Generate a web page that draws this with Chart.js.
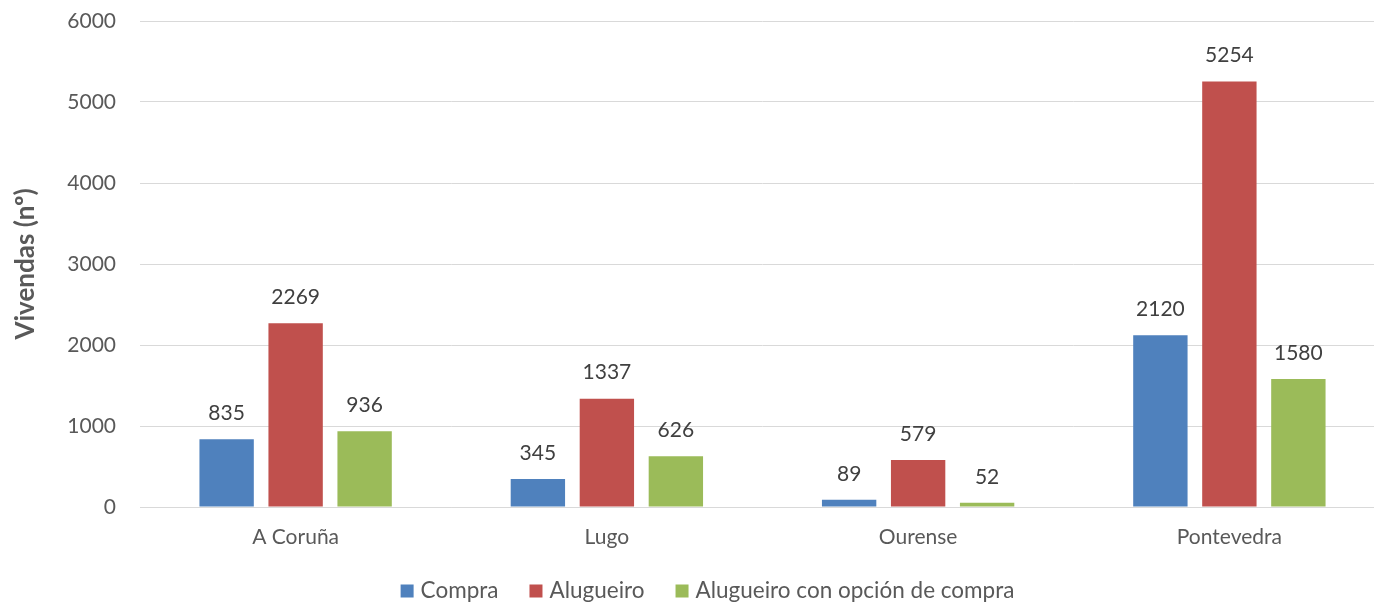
<!DOCTYPE html>
<html>
<head>
<meta charset="utf-8">
<script src="https://cdn.jsdelivr.net/npm/chart.js@4.4.1/dist/chart.umd.min.js"></script>
<style>
  html, body { margin: 0; padding: 0; background: #fff; overflow: hidden; }
  #wrap { width: 1390px; height: 605px; }
</style>
</head>
<body>
<div id="wrap"><canvas id="c" width="1390" height="605"></canvas></div>
<script>
const categories = ["A Coruña", "Lugo", "Ourense", "Pontevedra"];
const seriesNames = ["Compra", "Alugueiro", "Alugueiro con opción de compra"];
const compra = [835, 345, 89, 2120];
const alugueiro = [2269, 1337, 579, 5254];
const alugueiroOpcion = [936, 626, 52, 1580];
const yTicks = [0, 1000, 2000, 3000, 4000, 5000, 6000];
const yTitle = "Vivendas (nº)";

const colors = ["#4F81BD", "#C0504D", "#9BBB59"];
const FONT = "Lato, 'Open Sans', sans-serif";
const TXT = "#595959";

const valueLabels = {
  id: 'valueLabels',
  afterDatasetsDraw(chart) {
    const ctx = chart.ctx;
    ctx.save();
    ctx.font = "21px " + FONT;
    ctx.fillStyle = "#404040";
    ctx.textAlign = "center";
    ctx.textBaseline = "middle";
    chart.data.datasets.forEach((ds, i) => {
      const meta = chart.getDatasetMeta(i);
      meta.data.forEach((el, j) => {
        ctx.fillText(String(ds.data[j]), el.x, el.y - 26);
      });
    });
    ctx.restore();
  }
};

const bottomLegend = {
  id: 'bottomLegend',
  afterDraw(chart) {
    const ctx = chart.ctx;
    ctx.save();
    ctx.font = "22.5px " + FONT;
    ctx.textBaseline = "middle";
    ctx.textAlign = "left";
    const box = 13, gapText = 7, gapItem = 31;
    const items = chart.data.datasets.map(ds => ({label: ds.label, color: ds.backgroundColor, w: ctx.measureText(ds.label).width}));
    let total = 0;
    items.forEach((it, i) => { total += box + gapText + it.w + (i < items.length - 1 ? gapItem : 0); });
    let x = 707.5 - total / 2;
    const y = 591;
    items.forEach(it => {
      ctx.fillStyle = it.color;
      ctx.fillRect(x, y - box / 2, box, box);
      x += box + gapText;
      ctx.fillStyle = TXT;
      ctx.fillText(it.label, x, y);
      x += it.w + gapItem;
    });
    ctx.restore();
  }
};

const datasets = [compra, alugueiro, alugueiroOpcion].map((d, i) => ({
  label: seriesNames[i],
  data: d,
  backgroundColor: colors[i],
  borderWidth: 0,
  categoryPercentage: 0.665,
  barPercentage: 0.788
}));

new Chart(document.getElementById('c'), {
  type: 'bar',
  data: { labels: categories, datasets },
  options: {
    responsive: false,
    animation: false,
    layout: { padding: { top: 21, right: 5, left: 0, bottom: 0 } },
    plugins: { legend: { display: false }, tooltip: { enabled: false } },
    scales: {
      x: {
        grid: { display: false, drawTicks: false },
        border: { color: "#D9D9D9", width: 1 },
        ticks: { color: TXT, font: { family: FONT, size: 21 }, padding: 18 },
        afterFit(s) { s.height = 98; }
      },
      y: {
        min: 0, max: 6000,
        afterBuildTicks(s) { s.ticks = yTicks.map(v => ({ value: v })); },
        grid: { color: "#D9D9D9", drawTicks: false },
        border: { display: false },
        ticks: { color: TXT, font: { family: FONT, size: 21 }, padding: 24, callback: v => String(v) },
        title: { display: true, text: yTitle, color: TXT, font: { family: FONT, size: 26, weight: 'bold' }, padding: { top: 10, bottom: 0 } },
        afterFit(s) { s.width = 140; s.paddingTop = 0; s.paddingBottom = 0; }
      }
    }
  },
  plugins: [valueLabels, bottomLegend]
});
</script>
</body>
</html>
